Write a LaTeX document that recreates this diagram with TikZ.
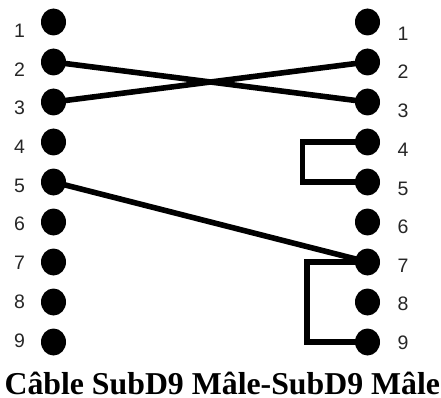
\documentclass[tikz,border=0pt]{standalone}
\usepackage{fontspec}
\setmainfont{Liberation Sans}
\newfontfamily\titlefont{Liberation Serif}
\usetikzlibrary{shapes.geometric}
\tikzset{
  pin/.style={ellipse,fill=black,draw=none,minimum width=25pt,minimum height=27pt,inner sep=0pt},
  pinlabel/.style={font=\fontsize{19.5}{22}\selectfont,inner sep=0pt,text=black!85},
  wire/.style={line width=5.6pt,black,miter limit=10},
  captiontext/.style={font=\titlefont\bfseries\fontsize{31.8}{34}\selectfont,inner sep=0pt}
}
\begin{document}
\begin{tikzpicture}[x=1pt,y=-1pt]
\useasboundingbox (0,0) rectangle (441,398);
\foreach \n/\y in {1/22,2/62,3/102,4/142,5/182,6/222,7/262,8/302,9/342}{
  \node[pin] (L\n) at (53.5,\y) {};
  \node[pin] (R\n) at (367.5,\y) {};
}
\foreach \n/\y in {1/31,2/70,3/108,4/147,5/186,6/224,7/263,8/302,9/341}
  \node[pinlabel] (LT\n) at (19.5,\y) {\n};
\foreach \n/\y in {1/34,2/72,3/111,4/150,5/189,6/227,7/266,8/304,9/343}
  \node[pinlabel] (RT\n) at (403,\y) {\n};
\draw[wire] (L2.center) -- (R3.center);
\draw[wire] (L3.center) -- (R2.center);
\draw[wire] (L5.center) -- (R7.center);
\coordinate (b1) at (302.5,142);
\coordinate (b2) at (302.5,182);
\coordinate (c1) at (307,262);
\coordinate (c2) at (307,342);
\draw[wire] (R4.center) -- (b1) -- (b2) -- (R5.center);
\draw[wire] (R7.center) -- (c1) -- (c2) -- (R9.center);
\node[captiontext,anchor=base] (title) at (222.3,394.7) {Câble SubD9 Mâle-SubD9 Mâle};
\end{tikzpicture}
\end{document}
